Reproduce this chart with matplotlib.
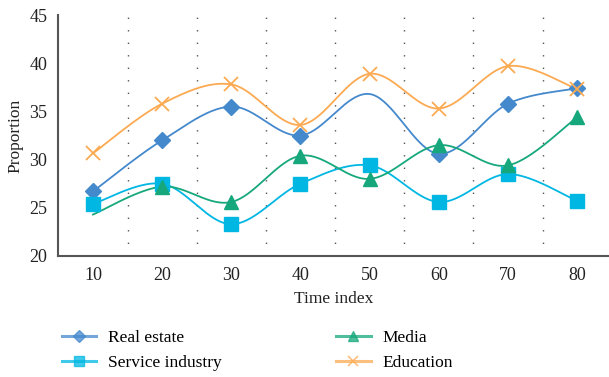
import numpy as np
import matplotlib
matplotlib.use("Agg")
import matplotlib.pyplot as plt
from matplotlib.lines import Line2D

time_index = [10, 20, 30, 40, 50, 60, 70, 80]
real_estate = [26.7, 32.0, 35.5, 32.5, 36.8, 30.6, 35.8, 37.4]
service_industry = [25.4, 27.5, 23.3, 27.5, 29.4, 25.6, 28.5, 25.7]
media = [24.3, 27.2, 25.6, 30.4, 28.0, 31.5, 29.4, 34.4]
education = [30.65, 35.8, 37.8, 33.6, 38.9, 35.3, 39.7, 37.3]
series_names = ["Real estate", "Service industry", "Media", "Education"]

plt.rcParams['font.family'] = ['Liberation Serif', 'DejaVu Serif']

def smooth(x, y, n=40):
    x = np.asarray(x, float); y = np.asarray(y, float)
    P = np.column_stack([x, y])
    Pe = np.vstack([P[0], P, P[-1]])
    out = []
    for i in range(len(P) - 1):
        p0, p1, p2, p3 = Pe[i], Pe[i + 1], Pe[i + 2], Pe[i + 3]
        c1 = p1 + (p2 - p0) / 6.0
        c2 = p2 - (p3 - p1) / 6.0
        t = np.linspace(0, 1, n)[:, None]
        seg = ((1 - t) ** 3) * p1 + 3 * ((1 - t) ** 2) * t * c1 + 3 * (1 - t) * t ** 2 * c2 + t ** 3 * p2
        out.append(seg if i == 0 else seg[1:])
    s = np.vstack(out)
    return s[:, 0], s[:, 1]

fig = plt.figure(figsize=(6.09, 3.77), dpi=100)
ax = fig.add_axes([58.4 / 609, 1 - 256 / 377, (609 - 58.4) / 609, 241 / 377])

styles = [
    (real_estate, '#4589cd', 'D', 8, [0, 1, 2, 3, 5, 6, 7]),
    (service_industry, '#00b7e3', 's', 10.5, list(range(8))),
    (media, '#16a87c', '^', 9.5, [1, 2, 3, 4, 5, 6, 7]),
    (education, '#fcaa52', 'x', 10, list(range(8))),
]

handles = []
for (vals, col, mk, ms, mev), name in zip(styles, series_names):
    sx, sy = smooth(time_index, vals)
    ax.plot(sx, sy, color=col, lw=1.3, zorder=3)
    xs = [time_index[i] for i in mev]
    ys = [vals[i] for i in mev]
    if mk == 'x':
        ax.plot(xs, ys, ls='none', marker=mk, ms=ms, color=col, mew=1.3, zorder=4)
    else:
        ax.plot(xs, ys, ls='none', marker=mk, ms=ms, color=col, mec=col, zorder=4)
    handles.append(Line2D([], [], color=col, lw=2.2, alpha=0.75, marker=mk,
                          ms=ms * 0.75, mfc=col, mec=col, mew=1.2 if mk == 'x' else 1,
                          label=name))

ax.set_xlim(5, 84.6)
ax.set_ylim(20, 45)
ax.set_xticks(time_index)
ax.set_yticks([20, 25, 30, 35, 40, 45])
for xv in [15, 25, 35, 45, 55, 65, 75]:
    ax.axvline(xv, color='#555555', lw=1.0, ls=(0, (1, 8)), zorder=1)

for s in ['top', 'right']:
    ax.spines[s].set_visible(False)
for s in ['left', 'bottom']:
    ax.spines[s].set_color('#555555')
    ax.spines[s].set_linewidth(1.5)
ax.tick_params(length=0, labelsize=13, colors='#222222', pad=8)
ax.set_xlabel('Time index', fontsize=12.5, color='#222222', labelpad=5)
ax.set_ylabel('Proportion', fontsize=12.5, color='#222222', labelpad=4)

fig.legend(handles=handles, ncol=2,
           loc='upper left', bbox_to_anchor=(46 / 609, 1 - 314 / 377),
           frameon=False, fontsize=12.5, handlelength=2.0, columnspacing=6.55,
           handletextpad=0.7, labelspacing=0.55)

fig.savefig('out.png', dpi=100)
